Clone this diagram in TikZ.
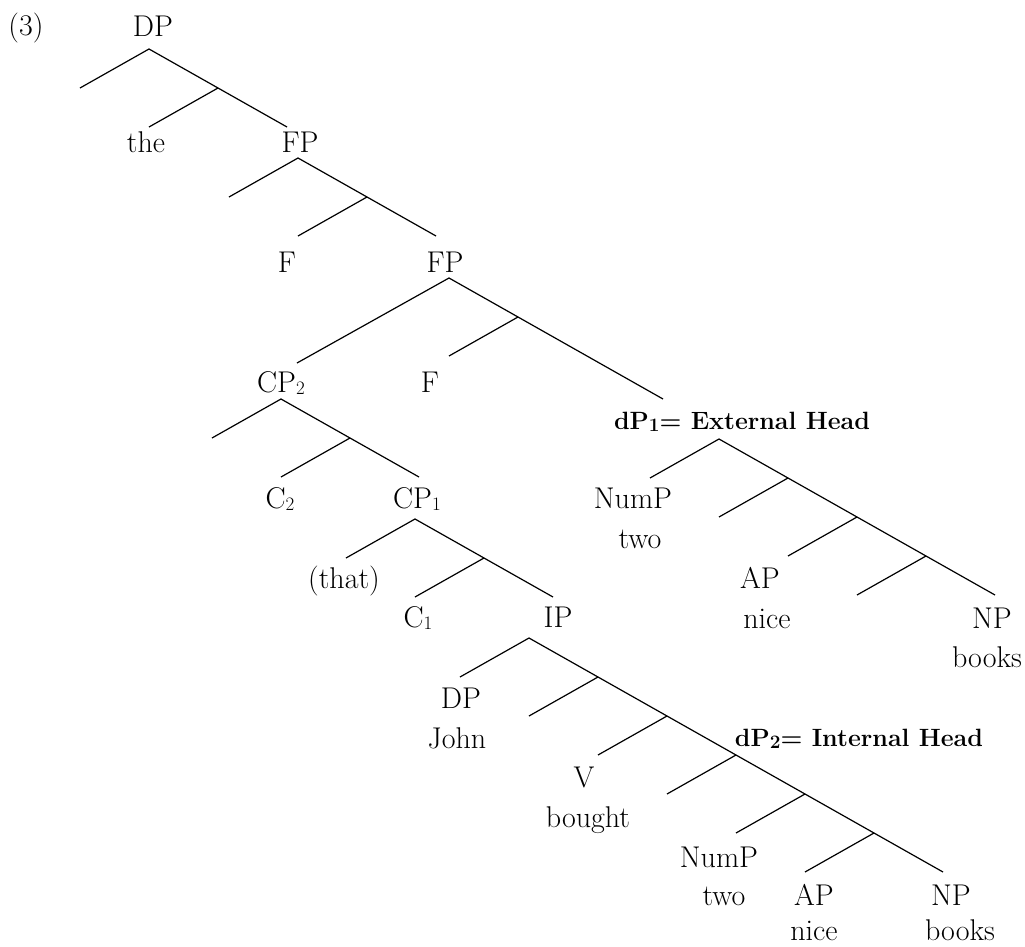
\documentclass[tikz,border=0pt]{standalone}
\usetikzlibrary{positioning}

\newcommand{\lsub}[1]{\raisebox{-2pt}{\fontsize{19}{20}\selectfont #1}}

\begin{document}
\begin{tikzpicture}[
    x=1pt, y=-1pt,
    lbl/.style={anchor=base, inner sep=0pt, font=\fontsize{30}{40}\selectfont},
    head/.style={anchor=base, inner sep=0pt, font=\fontsize{25}{30}\selectfont\bfseries},
    edge/.style={line width=1.2pt},
    stepl/.style={below left=39pt and 69pt of #1},
    stepr/.style={below right=39pt and 69pt of #1},
]
\useasboundingbox (0,0) rectangle (1025,946);

\node[lbl] (exno) at (26,35) {(3)};

% DP
\node[lbl] (dp-txt) at (153,36) {DP};
\coordinate (dp) at (149,49);
\coordinate[stepl=dp] (dp-l);
\coordinate[stepr=dp] (dp-m);
\coordinate[stepl=dp-m] (dp-ml);
\coordinate[stepr=dp-m] (dp-mr);
\draw[edge] (dp-l) -- (dp) -- (dp-m) -- (dp-mr);
\draw[edge] (dp-m) -- (dp-ml);
\node[lbl] (the) at (146,152) {the};
\node[lbl] (fpa-txt) at (300,152) {FP};

% upper FP
\coordinate (fpa) at (298,158);
\coordinate[stepl=fpa] (fpa-l);
\coordinate[stepr=fpa] (fpa-m);
\coordinate[stepl=fpa-m] (fpa-ml);
\coordinate[stepr=fpa-m] (fpa-mr);
\draw[edge] (fpa-l) -- (fpa) -- (fpa-m) -- (fpa-mr);
\draw[edge] (fpa-m) -- (fpa-ml);
\node[lbl] (fa) at (287,272) {F};
\node[lbl] (fpb-txt) at (445,272) {FP};

% lower FP
\coordinate (fpb) at (449,278);
\coordinate (fpb-l) at (297,363);
\coordinate[stepr=fpb] (fpb-m);
\coordinate[stepl=fpb-m] (fpb-ml);
\coordinate (fpb-mr) at (663,399);
\draw[edge] (fpb-l) -- (fpb) -- (fpb-m) -- (fpb-mr);
\draw[edge] (fpb-m) -- (fpb-ml);
\node[lbl] (cpb-txt) at (281,392) {CP\lsub{2}};
\node[lbl] (fb) at (430,392) {F};
\node[head] (ext-txt) at (742,429) {dP\lsub{1}= External Head};

% CP2
\coordinate (cpb) at (281,399);
\coordinate[stepl=cpb] (cpb-l);
\coordinate[stepr=cpb] (cpb-m);
\coordinate[stepl=cpb-m] (cpb-ml);
\coordinate[stepr=cpb-m] (cpb-mr);
\draw[edge] (cpb-l) -- (cpb) -- (cpb-m) -- (cpb-mr);
\draw[edge] (cpb-m) -- (cpb-ml);
\node[lbl] (cb) at (280,508) {C\lsub{2}};
\node[lbl] (cpa-txt) at (417,508) {CP\lsub{1}};

% CP1
\coordinate (cpa) at (415,519);
\coordinate[stepl=cpa] (cpa-l);
\coordinate[stepr=cpa] (cpa-m);
\coordinate[stepl=cpa-m] (cpa-ml);
\coordinate[stepr=cpa-m] (cpa-mr);
\draw[edge] (cpa-l) -- (cpa) -- (cpa-m) -- (cpa-mr);
\draw[edge] (cpa-m) -- (cpa-ml);
\node[lbl] (that) at (344,588) {(that)};
\node[lbl] (ca) at (418,627) {C\lsub{1}};
\node[lbl] (ip-txt) at (558,627) {IP};

% External Head
\coordinate (ext) at (719,439);
\coordinate[stepl=ext] (ext-l);
\coordinate[stepr=ext] (ext-1);
\coordinate[stepl=ext-1] (ext-1l);
\coordinate[stepr=ext-1] (ext-2);
\coordinate[stepl=ext-2] (ext-2l);
\coordinate[stepr=ext-2] (ext-3);
\coordinate[stepl=ext-3] (ext-3l);
\coordinate[stepr=ext-3] (ext-4);
\draw[edge] (ext-l) -- (ext) -- (ext-1) -- (ext-2) -- (ext-3) -- (ext-4);
\draw[edge] (ext-1) -- (ext-1l);
\draw[edge] (ext-2) -- (ext-2l);
\draw[edge] (ext-3) -- (ext-3l);
\node[lbl] (numpa) at (633,508) {NumP};
\node[lbl] (twoa) at (640,548) {two};
\node[lbl] (apa) at (760,588) {AP};
\node[lbl] (nicea) at (767,628) {nice};
\node[lbl] (npa) at (992,628) {NP};
\node[lbl] (booksa) at (987,667) {books};

% IP
\coordinate (ip) at (529,638);
\coordinate[stepl=ip] (ip-l);
\coordinate[stepr=ip] (ip-1);
\coordinate[stepl=ip-1] (ip-1l);
\coordinate[stepr=ip-1] (ip-2);
\coordinate[stepl=ip-2] (ip-2l);
\coordinate[stepr=ip-2] (ip-3);
\coordinate[stepl=ip-3] (ip-3l);
\coordinate[stepr=ip-3] (ip-4);
\coordinate[stepl=ip-4] (ip-4l);
\coordinate[stepr=ip-4] (ip-5);
\coordinate[stepl=ip-5] (ip-5l);
\coordinate[stepr=ip-5] (ip-6);
\draw[edge] (ip-l) -- (ip) -- (ip-1) -- (ip-2) -- (ip-3) -- (ip-4) -- (ip-5) -- (ip-6);
\draw[edge] (ip-1) -- (ip-1l);
\draw[edge] (ip-2) -- (ip-2l);
\draw[edge] (ip-3) -- (ip-3l);
\draw[edge] (ip-4) -- (ip-4l);
\draw[edge] (ip-5) -- (ip-5l);
\node[lbl] (dpb) at (461,708) {DP};
\node[lbl] (john) at (457,748) {John};
\node[head] (int-txt) at (859,746) {dP\lsub{2}= Internal Head};
\node[lbl] (v) at (584,787) {V};
\node[lbl] (bought) at (588,827) {bought};
\node[lbl] (numpb) at (719,867) {NumP};
\node[lbl] (twob) at (724,905) {two};
\node[lbl] (apb) at (814,905) {AP};
\node[lbl] (niceb) at (814,940) {nice};
\node[lbl] (npb) at (951,905) {NP};
\node[lbl] (booksb) at (960,940) {books};
\end{tikzpicture}
\end{document}
